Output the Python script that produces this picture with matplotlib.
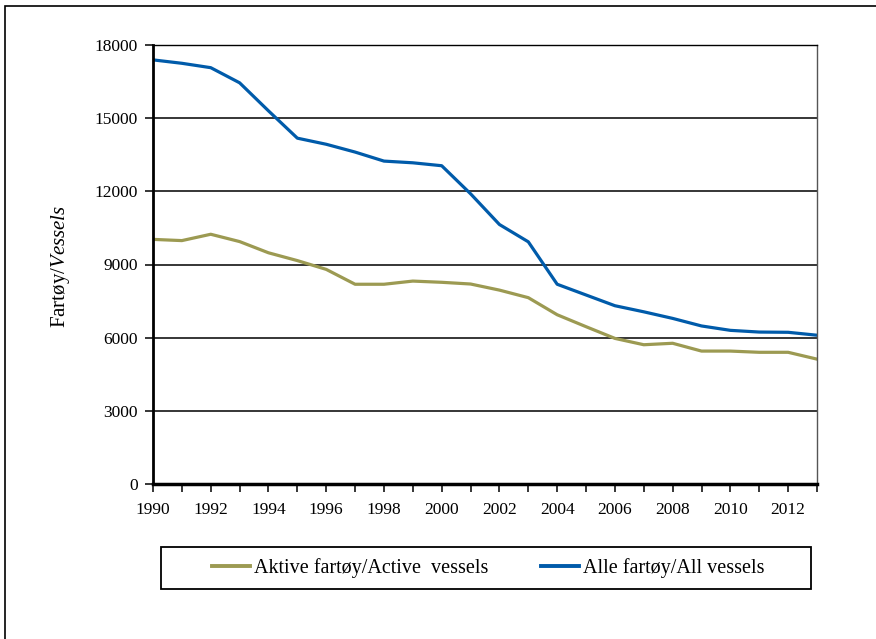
import matplotlib
matplotlib.use("Agg")
import matplotlib.pyplot as plt
from matplotlib.patches import Rectangle
from matplotlib.lines import Line2D

years = list(range(1990, 2014))
active = [10030, 9980, 10240, 9940, 9480, 9160, 8800, 8190, 8190, 8320, 8270, 8200,
          7950, 7640, 6940, 6450, 5970, 5710, 5770, 5450, 5450, 5400, 5400, 5120]
all_vessels = [17390, 17250, 17070, 16450, 15300, 14180, 13930, 13610, 13240, 13170, 13050, 11900,
               10640, 9930, 8190, 7750, 7310, 7060, 6790, 6480, 6300, 6230, 6220, 6100]
yticks = [0, 3000, 6000, 9000, 12000, 15000, 18000]
xlabel_years = list(range(1990, 2013, 2))

label_active = "Aktive fartøy/Active  vessels"
label_all = "Alle fartøy/All vessels"
c_active = "#9C9A52"
c_all = "#005BAA"

plt.rcParams['font.family'] = ['Liberation Serif', 'DejaVu Serif']
plt.rcParams['mathtext.fontset'] = 'custom'
plt.rcParams['mathtext.it'] = 'Liberation Serif:italic'
plt.rcParams['mathtext.rm'] = 'Liberation Serif'

W, H = 876, 639
fig = plt.figure(figsize=(W / 100, H / 100), dpi=100)

# outer frame (cropped at right/bottom)
fig.patches.append(Rectangle((5 / W, -0.05), 1.2, 1 - 6 / H + 0.05, transform=fig.transFigure,
                             fill=False, edgecolor="black", linewidth=1.2))

ax = fig.add_axes([153 / W, 1 - 484 / H, (817 - 153) / W, (484 - 45) / H])
ax.plot(years, active, color=c_active, linewidth=2.3, solid_joinstyle='round')
ax.plot(years, all_vessels, color=c_all, linewidth=2.3, solid_joinstyle='round')

ax.set_xlim(1990, 2013)
ax.set_ylim(0, 18000)
ax.set_yticks(yticks)
ax.set_yticklabels([str(v) for v in yticks])
ax.set_xticks(years)
ax.set_xticklabels([str(y) if y in xlabel_years else "" for y in years])
ax.yaxis.grid(True, color="black", linewidth=1.1)
ax.set_axisbelow(True)
ax.tick_params(axis='both', labelsize=12.5, direction='out', length=6, width=1.1, colors='black')
ax.tick_params(axis='x', pad=7)
ax.tick_params(axis='y', pad=5)
ax.spines['left'].set_linewidth(2.0)
ax.spines['bottom'].set_linewidth(2.5)
ax.spines['top'].set_linewidth(1.0)
ax.spines['right'].set_linewidth(1.0)
ax.spines['right'].set_color('#555555')

fig.text(61 / W, 1 - 266 / H, r"Fartøy/$\it{Vessels}$", rotation=90, ha='center', va='center',
         fontsize=15)

# legend box
fig.patches.append(Rectangle((161 / W, 1 - 589 / H), (811 - 161) / W, (589 - 547) / H,
                             transform=fig.transFigure, fill=False, edgecolor="black", linewidth=1.3))
handles = [Line2D([], [], color=c_active, linewidth=2.8), Line2D([], [], color=c_all, linewidth=2.8)]
fig.legend(handles, [label_active, label_all], loc='center', bbox_to_anchor=(488 / W, 1 - 568 / H),
           ncol=2, frameon=False, fontsize=14.5, handlelength=1.9, handletextpad=0.2,
           columnspacing=2.6, borderpad=0)

fig.savefig("out.png", dpi=100)
